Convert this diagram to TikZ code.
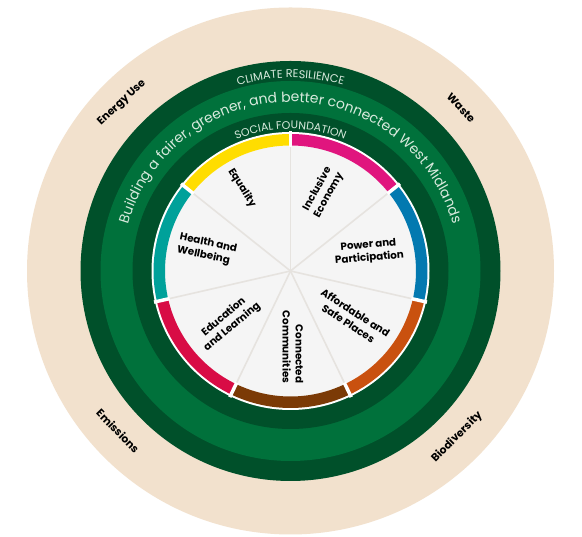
\documentclass[tikz,border=0pt]{standalone}
\usepackage{fontspec}
\setmainfont{Poppins}
\usetikzlibrary{decorations.text}
\definecolor{beige}{HTML}{F2E1CD}
\definecolor{dkgreen}{HTML}{00502A}
\definecolor{mdgreen}{HTML}{00713B}
\definecolor{disc}{HTML}{F5F5F5}
\definecolor{spokecol}{HTML}{E6E3DF}
\definecolor{ringtxt}{HTML}{D8EADD}
\definecolor{cyellow}{HTML}{FFDD00}
\definecolor{cmagenta}{HTML}{E0157E}
\definecolor{cblue}{HTML}{0379B0}
\definecolor{corange}{HTML}{C9510F}
\definecolor{cbrown}{HTML}{7B3A06}
\definecolor{ccrimson}{HTML}{D80C45}
\definecolor{cteal}{HTML}{00A19A}
\tikzset{
  lab/.style={font=\bfseries\fontsize{10.3}{13}\selectfont, align=center, text=black, inner sep=0pt},
  outlab/.style={font=\bfseries\fontsize{10.8}{13}\selectfont, text=black, inner sep=0pt},
  seg/.style={line width=11.5pt},
  spokeline/.style={spokecol, line width=1.6pt},
  gapline/.style={white, line width=3.5pt}
}
\begin{document}
\begin{tikzpicture}[x=1pt,y=1pt]
\useasboundingbox (0,0) rectangle (582,537);
\fill[white] (0,0) rectangle (582,537);
\coordinate (c) at (290.5,266);
\fill[beige] (c) circle[radius=263.5];
\fill[dkgreen] (c) circle[radius=210];
\fill[mdgreen] (c) circle[radius=190];
\fill[dkgreen] (c) circle[radius=158];
\fill[white] (c) circle[radius=139];
\fill[disc] (c) circle[radius=125.5];
% spokes
\foreach \a in {90,141.43,192.86,244.29,295.71,347.14,38.57}
  \draw[spokeline] (c) -- ++(\a:125.5);
% ring segments
\draw[seg, cyellow] (c) ++(90:131.25) arc[start angle=90, end angle=141.43, radius=131.25];
\draw[seg, cteal] (c) ++(141.43:131.25) arc[start angle=141.43, end angle=192.86, radius=131.25];
\draw[seg, ccrimson] (c) ++(192.86:131.25) arc[start angle=192.86, end angle=244.29, radius=131.25];
\draw[seg, cbrown] (c) ++(244.29:131.25) arc[start angle=244.29, end angle=295.71, radius=131.25];
\draw[seg, corange] (c) ++(295.71:131.25) arc[start angle=295.71, end angle=347.14, radius=131.25];
\draw[seg, cblue] (c) ++(347.14:131.25) arc[start angle=347.14, end angle=398.57, radius=131.25];
\draw[seg, cmagenta] (c) ++(38.57:131.25) arc[start angle=38.57, end angle=90, radius=131.25];
\foreach \a in {90,141.43,192.86,244.29,295.71,347.14,38.57}
  \draw[gapline] (c) ++(\a:124) -- ++(\a:16);
% curved texts
\path[decorate, decoration={text along path, text align=center,
  text={|\color{ringtxt}\fontsize{11.3}{13}\selectfont|CLIMATE RESILIENCE}}]
  (c) ++(170:193) arc[start angle=170, end angle=10, radius=193];
\path[decorate, decoration={text along path, text align=center,
  text={|\color{ringtxt}\fontsize{14}{16}\selectfont|Building a fairer, greener, and better connected West Midlands}}]
  (c) ++(178:169) arc[start angle=178, end angle=2, radius=169];
\path[decorate, decoration={text along path, text align=center,
  text={|\color{ringtxt}\fontsize{11}{13}\selectfont|SOCIAL FOUNDATION}}]
  (c) ++(170:142) arc[start angle=170, end angle=10, radius=142];
% inner labels
\node[lab, rotate=-58] (equality) at (242,349) {Equality};
\node[lab, rotate=61] (inclusive) at (323,345) {Inclusive\\Economy};
\node[lab, rotate=5] (power) at (369,285) {Power and\\Participation};
\node[lab, rotate=-12, align=left] (health) at (207,287) {Health and\\Wellbeing};
\node[lab, rotate=40] (education) at (228,215) {Education\\and Learning};
\node[lab, rotate=-90, align=right] (connected) at (293,190) {Connected\\Communities};
\node[lab, rotate=-33] (affordable) at (352,219) {Affordable and\\Safe Places};
% outer labels
\node[outlab, rotate=43] (energy) at (122,434) {Energy\ Use};
\node[outlab, rotate=-47] (waste) at (461,429) {Waste};
\node[outlab, rotate=-46] (emissions) at (118,106) {Emissions};
\node[outlab, rotate=45] (biodiv) at (457,100) {Biodiversity};
\end{tikzpicture}
\end{document}
